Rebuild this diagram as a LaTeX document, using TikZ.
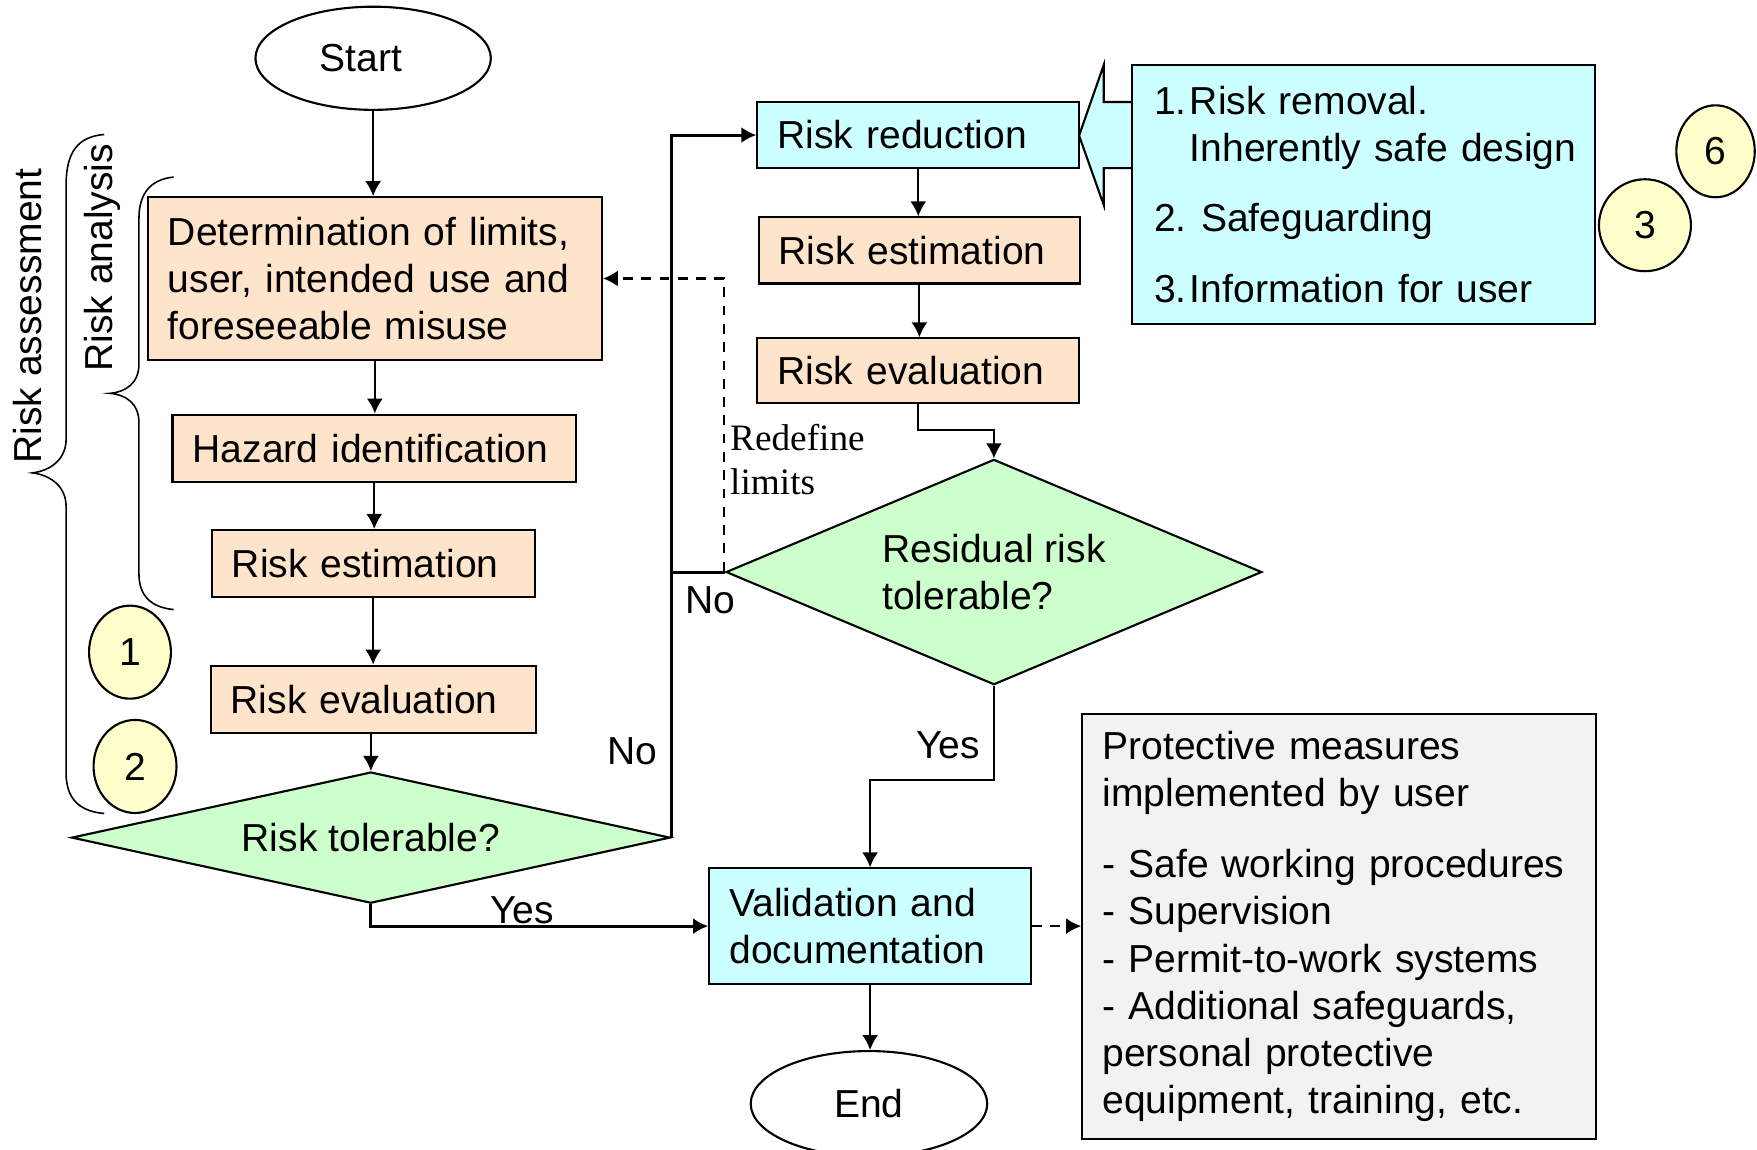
\documentclass[tikz,border=0pt]{standalone}
\usepackage{fontspec}
\setmainfont{Liberation Sans}
\newfontfamily\timesfont{Liberation Serif}
\usetikzlibrary{shapes.geometric, arrows.meta}
\definecolor{peach}{HTML}{FFE4CC}
\definecolor{cyanc}{HTML}{CCFFFF}
\definecolor{greenc}{HTML}{CCFFCC}
\definecolor{yellowc}{HTML}{FFFFCC}
\definecolor{grayc}{HTML}{F2F2F2}
\tikzset{
  box/.style={draw, rectangle, line width=0.6pt, inner ysep=0pt, inner xsep=0.2017cm, align=left},
  pbox/.style={box, fill=peach},
  cbox/.style={box, fill=cyanc},
  dia/.style={draw, diamond, fill=greenc, line width=0.6pt, inner sep=0pt},
  term/.style={draw, ellipse, line width=0.6pt, inner sep=0pt},
  numc/.style={draw, ellipse, fill=yellowc, line width=0.6pt, inner sep=0pt},
  arr/.style={-{Latex[length=1.5mm,width=1.6mm]}, line width=0.55pt},
  arrthick/.style={-{Latex[length=1.5mm,width=1.6mm]}, line width=0.85pt},
  arrdash/.style={-{Latex[length=1.5mm,width=1.6mm]}, line width=0.75pt, dash pattern=on 2.8pt off 2.4pt},
  brace/.style={line width=0.45pt},
}
\begin{document}
\begin{tikzpicture}[x=0.011205cm, y=-0.011205cm, font=\fontsize{11.1}{13.4}\selectfont]
\useasboundingbox (0,0) rectangle (1568,1026);

% braces
\draw[brace] (93,120) .. controls (70,122) and (59,135) .. (59,165) -- (59,392)
  .. controls (59,410) and (45,420) .. (29,422) .. controls (45,424) and (59,434) .. (59,452)
  -- (59,690) .. controls (59,712) and (70,724) .. (93,726);
\draw[brace] (155,158) .. controls (135,160) and (124,172) .. (124,195) -- (124,325)
  .. controls (124,342) and (112,350) .. (98,351) .. controls (112,352) and (124,360) .. (124,377)
  -- (124,512) .. controls (124,532) and (135,542) .. (155,544);
\node[rotate=90] (lassess) at (25,282) {Risk assessment};
\node[rotate=90] (lanalysis) at (91,230) {Risk analysis};

% left column
\node[term, minimum width=2.353cm, minimum height=1.031cm] (start) at (333,52) {Start\hspace*{0.25cm}};
\node[pbox, text width=4.135cm, minimum height=1.625cm] (det) at (334.5,248.5)
  {Determination of limits,\\user, intended use and\\foreseeable misuse};
\node[pbox, text width=3.630cm, minimum height=0.672cm] (haz) at (334,400) {Hazard identification};
\node[pbox, text width=2.824cm, minimum height=0.672cm] (est1) at (333,503) {Risk estimation};
\node[pbox, text width=2.846cm, minimum height=0.672cm] (eval1) at (333,624) {Risk evaluation};
\node[dia, aspect=4.56, minimum width=5.983cm, minimum height=1.311cm] (tol) at (331,747.5) {Risk tolerable?};

\node[numc, minimum width=0.818cm, minimum height=0.930cm] (c1) at (116,582) {1};
\node[numc, minimum width=0.829cm, minimum height=0.930cm] (c2) at (120.5,684) {2};

% right column
\node[cbox, text width=2.812cm, minimum height=0.661cm] (red) at (819.5,120.5) {Risk reduction};
\node[pbox, text width=2.812cm, minimum height=0.661cm] (est2) at (820.5,223.5) {Risk estimation};
\node[pbox, text width=2.812cm, minimum height=0.650cm] (eval2) at (819.5,331) {Risk evaluation};
\node[dia, aspect=2.38, minimum width=5.356cm, minimum height=2.252cm, align=left] (res) at (887,510.5)
  {Residual risk\\tolerable?};

% block arrow into risk reduction
\draw[fill=cyanc, line width=0.6pt] (1012,91) -- (985,91) -- (985,58) -- (963,121)
  -- (985,183) -- (985,150) -- (1012,150);
\node[cbox, inner xsep=0.224cm, text width=4.179cm, minimum height=2.588cm] (info) at (1216.5,173.5)
  {\mbox{\makebox[0.3586cm][l]{1.}Risk removal.}\\
   \mbox{\hspace*{0.3586cm}Inherently safe design}\\[6.7pt]
   \mbox{\makebox[0.4706cm][l]{2.}Safeguarding}\\[6.7pt]
   \mbox{\makebox[0.3586cm][l]{3.}Information for user}};
\node[numc, minimum width=0.784cm, minimum height=0.919cm] (c6) at (1531,135) {6};
\node[numc, minimum width=0.919cm, minimum height=0.919cm] (c3) at (1468,201) {3};

% bottom
\node[cbox, text width=2.812cm, minimum height=1.154cm] (val) at (776.5,826.5)
  {Validation and\\documentation};
\node[term, minimum width=2.364cm, minimum height=1.053cm] (end) at (775.5,985) {End};
\node[box, fill=grayc, text width=4.729cm, minimum height=4.247cm] (prot) at (1195,826.5)
  {Protective measures\\implemented by user\\[7pt]
   - Safe working procedures\\- Supervision\\- Permit-to-work systems\\
   - Additional safeguards,\\personal protective\\equipment, training, etc.};

% connectors
\draw[arr] (start.south) -- (start.south |- det.north);
\draw[arr] (det.south) -- (det.south |- haz.north);
\draw[arr] (haz.south) -- (haz.south |- est1.north);
\draw[arr] (est1.south) -- (est1.south |- eval1.north);
\draw[arr] (tol.north |- eval1.south) -- (tol.north);
\draw[arrthick] (tol.east) -- (tol.east |- red.west) -- (red.west);
\draw[line width=0.85pt] (res.west) -- (tol.east |- res.west);
\draw[arrthick] (tol.south) |- (val.west);
\draw[arr] (red.south) -- (red.south |- est2.north);
\draw[arr] (est2.south) -- (est2.south |- eval2.north);
\draw[arr] (eval2.south) -- ++(0,23) -| (res.north);
\draw[arr] (res.south) -- ++(0,84) -| (val.north);
\draw[arr] (val.south) -- (val.south |- end.north);
\draw[arrdash] (val.east) -- (prot.west);
\draw[arrdash, line width=0.6pt] (646,510) -- (646,248.5) -- (det.east);

% labels
\node (lno1) at (634,536) {No};
\node (lno2) at (564,670) {No};
\node (lyes1) at (466,812) {Yes};
\node (lyes2) at (846,665) {Yes};
\node[anchor=west, align=left, inner sep=0pt, font=\timesfont\fontsize{10.6}{12.7}\selectfont] (redef) at (651,410)
  {Redefine\\limits};
\end{tikzpicture}
\end{document}
